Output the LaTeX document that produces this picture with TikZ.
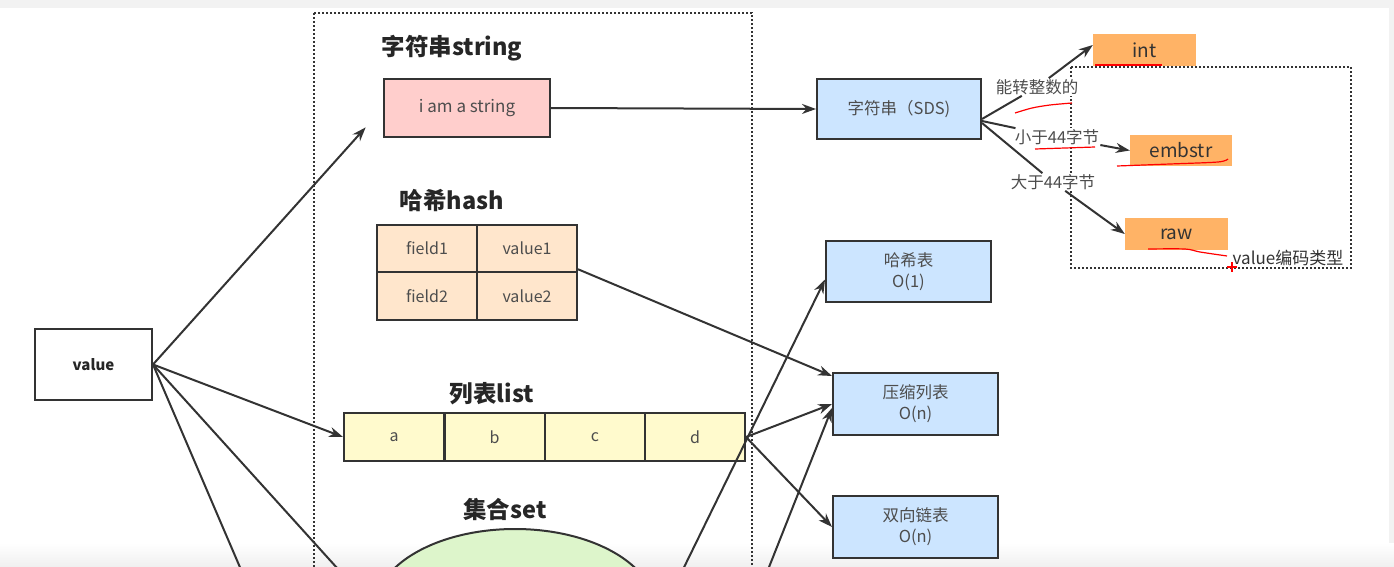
\documentclass[tikz,border=0pt]{standalone}
\usepackage{fontspec}
\setmainfont{Noto Sans CJK SC}
\usepackage{tikz}
\usetikzlibrary{arrows.meta,shapes,calc}
\definecolor{edgegray}{HTML}{333333}
\definecolor{textgray}{HTML}{4D4D4D}
\definecolor{strpink}{HTML}{FFCECC}
\definecolor{hashpeach}{HTML}{FFE6CC}
\definecolor{listyellow}{HTML}{FFFACD}
\definecolor{setgreen}{HTML}{DDF5CB}
\definecolor{encblue}{HTML}{CCE5FF}
\definecolor{encorange}{HTML}{FFB366}
\tikzstyle{box}=[rectangle,draw=edgegray,line width=2pt,text=textgray,inner sep=0pt,align=center,font=\fontsize{16}{19}\selectfont]
\tikzstyle{cell}=[box,minimum width=100pt]
\tikzstyle{encbox}=[box,fill=encblue,minimum width=165pt,minimum height=61pt,font=\fontsize{16.5}{21}\selectfont]
\tikzstyle{typebox}=[rectangle,fill=encorange,minimum width=103pt,minimum height=32pt,inner sep=0pt,text=edgegray,font=\fontsize{19}{22}\selectfont]
\tikzstyle{title}=[text=black!85,font=\fontsize{23.5}{27}\selectfont\bfseries]
\tikzstyle{frame}=[draw=edgegray,line width=1.6pt,dash pattern=on 1.7pt off 2.3pt]
\tikzstyle{edge} = [draw,line width=2pt,edgegray,-{Stealth[length=14pt,width=10pt]}]
\tikzstyle{undirectededge} = [draw,line width=2pt,edgegray]
\tikzstyle{weight} = [fill=white,inner sep=1pt,text=textgray,font=\fontsize{16.5}{19}\selectfont]
\tikzstyle{redline} = [draw=red,line width=1.2pt]

\begin{document}
\begin{tikzpicture}[x=1pt,y=-1pt]
    \useasboundingbox (0,0) rectangle (1394,567);
    \fill[gray!10] (0,0) rectangle (1394,8);
    \fill[gray!10] (1389,8) rectangle (1394,567);
    \shade[top color=white,bottom color=gray!12] (0,543) rectangle (1394,567);

    \draw[frame] (314,13) rectangle (752,590);
    \draw[frame] (1071,67) rectangle (1351,268);

    \foreach \pos/ \name/ \txt in {{(452,48)/tstr/字符串string}, {(452,201)/thash/哈希hash}, {(492,394)/tlist/列表list}, {(505,509)/tset/集合set}}
        \node[title] (\name) at \pos {\txt};

    \node[box,fill=white,minimum width=117pt,minimum height=71pt,text=black!85,font=\fontsize{15}{18}\selectfont\bfseries] (value) at (93.5,364.5) {value};
    \node[box,fill=strpink,minimum width=166pt,minimum height=58pt,font=\fontsize{17}{20}\selectfont] (str) at (467,108) {i am a string};

    % hash and list cells
    \foreach \pos/ \name/ \txt in {{(427,248.5)/f1/field1}, {(527,248.5)/v1/value1}, {(427,296)/f2/field2}, {(527,296)/v2/value2}}
        \node[cell,fill=hashpeach,minimum height=47.5pt] (\name) at \pos {\txt};
    \foreach \x/ \name in {394/a, 494.5/b, 595/c, 695/d}
        \node[cell,fill=listyellow,minimum height=48pt] (\name) at (\x,437) {\name};

    \node[ellipse,draw=edgegray,line width=2pt,fill=setgreen,minimum width=280pt,minimum height=160pt] (set) at (515,609) {};

    \node[encbox,minimum width=164pt,minimum height=60pt] (sds) at (899,109) {字符串（SDS)};
    \node[encbox] (dict) at (908.5,271.5) {哈希表\\O(1)};
    \node[encbox,minimum height=62pt] (zip) at (915.5,404) {压缩列表\\O(n)};
    \node[encbox,minimum height=62pt] (dlist) at (915.5,527) {双向链表\\O(n)};

    \node[typebox] (int) at (1144.5,50) {int};
    \node[typebox,minimum width=102pt,minimum height=31pt] (embstr) at (1181,150.5) {embstr};
    \node[typebox] (raw) at (1176.5,234) {raw};
    \node[weight,fill=none,text=edgegray,font=\fontsize{17}{20}\selectfont] (enc) at (1288,258) {value编码类型};

    \foreach \pos/ \name/ \txt in {{(1037,87)/l1/能转整数的}, {(1057,137)/l2/小于44字节}, {(1053,182)/l3/大于44字节}}
        \node[weight] (\name) at \pos {\txt};

    % ends below the page
    \coordinate (below1) at (254,600);
    \coordinate (below2) at (366,600);
    \coordinate (setout1) at (668,600);
    \coordinate (setout2) at (756,600);

    \path[edge,shorten >=26pt] (value.east) -- (str.west);
    \path[edge] (value.east) -- (a.west);
    \path[undirectededge] (value.east) -- (below1);
    \path[undirectededge] (value.east) -- (below2);
    \path[edge] (str.east) -- (sds.west);
    \path[edge] ([yshift=4pt]v1.south east) -- ([yshift=-4pt]zip.north west);
    \path[edge] (d.east) -- (zip.west);
    \path[edge] (d.east) -- (dlist.west);
    \path[edge] (setout1) -- ([yshift=-8pt]dict.west);
    \path[edge] (setout2) -- ([yshift=-4pt]zip.west);

    \path[undirectededge] ([yshift=-10pt]sds.east) -- (l1);
    \path[undirectededge] ([yshift=-12pt]sds.east) -- (l2);
    \path[undirectededge] ([yshift=-14pt]sds.east) -- (l3);
    \path[edge] (l1) -- ([yshift=5pt]int.west);
    \path[edge] (l2) -- (embstr.west);
    \path[edge] (l3) -- (raw.west);

    % red pen marks
    \draw[redline] (1095,65) -- (1162,65);
    \draw[redline] plot[smooth] coordinates {(1015,113) (1032,108) (1050,105) (1072,103)};
    \draw[redline] (1035,149) -- (1095,147);
    \draw[redline] plot[smooth] coordinates {(1117,166) (1170,164) (1218,162) (1228,159)};
    \draw[redline] plot[smooth] coordinates {(1148,249) (1185,249) (1200,252) (1227,256)};
    \draw[redline] (1227,267) -- (1237,267) (1232,262) -- (1232,272);
\end{tikzpicture}
\end{document}
